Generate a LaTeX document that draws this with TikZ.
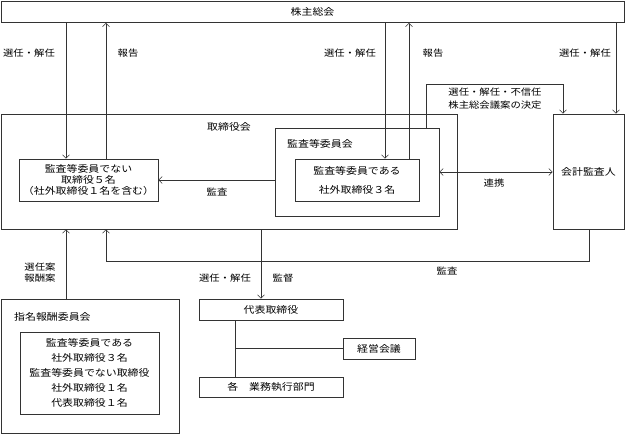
\documentclass[tikz,border=0pt]{standalone}
\usepackage{fontspec}
\setmainfont[FakeStretch=1.15]{Noto Sans CJK JP}
\usetikzlibrary{arrows.meta}

\begin{document}
\begin{tikzpicture}[x=1pt,y=-1pt,
  box/.style={draw=black!80,line width=0.6pt,inner sep=0pt,align=center,font=\fontsize{9.5}{11}\selectfont},
  title/.style={inner sep=0pt,font=\fontsize{9.5}{11}\selectfont},
  lbl/.style={inner sep=0pt,align=center,font=\fontsize{9}{13}\selectfont},
  line/.style={draw=black!80,line width=0.6pt},
  arr/.style={line,-{Straight Barb[length=3.5pt,width=7pt]}},
  both/.style={line,{Straight Barb[length=3.5pt,width=7pt]}-{Straight Barb[length=3.5pt,width=7pt]}}]
\useasboundingbox (0,0) rectangle (625,435);

\node[box,minimum width=623pt,minimum height=21pt] (soukai) at (312.5,12) {株主総会};

\node[box,minimum width=456pt,minimum height=115pt] (trk) at (229,171.5) {};
\node[title] (trkt) at (229,127) {取締役会};
\node[box,minimum width=164pt,minimum height=88pt] (kti) at (357,172) {};
\node[title,anchor=west] (ktit) at (287,144) {監査等委員会};
\node[box,minimum width=124pt,minimum height=42pt] (kta) at (357,180) {監査等委員である\\[8pt]社外取締役３名};
\node[box,minimum width=139pt,minimum height=42pt] (ktn) at (88.5,180) {監査等委員でない\\取締役５名\\（社外取締役１名を含む）};
\node[box,minimum width=71pt,minimum height=115pt] (kaikei) at (588.5,171.5) {会計監査人};

\node[box,minimum width=178pt,minimum height=134pt] (shimei) at (90,366) {};
\node[title,anchor=west] (shimeit) at (14,317) {指名報酬委員会};
\node[box,minimum width=139pt,minimum height=82pt,font=\fontsize{9.5}{15}\selectfont] (iin) at (89.5,373)
  {監査等委員である\\社外取締役３名\\監査等委員でない取締役\\社外取締役１名\\代表取締役１名};

\node[box,minimum width=144pt,minimum height=21pt] (daihyo) at (271,309.5) {代表取締役};
\node[box,minimum width=72pt,minimum height=21pt] (keiei) at (379,348.5) {経営会議};
\node[box,minimum width=144pt,minimum height=20pt] (gyomu) at (271,387) {各　業務執行部門};

\coordinate (senL) at (66,0);
\coordinate (hokL) at (106,0);
\coordinate (senM) at (385,0);
\coordinate (hokM) at (409,0);
\coordinate (senR) at (616,0);
\coordinate (fushin) at (426,84);
\coordinate (fushinR) at (563,84);
\coordinate (kansaR) at (589,261);
\coordinate (kansaL) at (106,261);
\coordinate (kantoku) at (261,0);
\coordinate (bunki) at (235,0);

\draw[arr] (senL |- soukai.south) -- (senL |- ktn.north);
\draw[arr] (hokL |- ktn.north) -- (hokL |- soukai.south);
\draw[arr] (senM |- soukai.south) -- (senM |- kta.north);
\draw[arr] (hokM |- kta.north) -- (hokM |- soukai.south);
\draw[arr] (fushin |- kti.north) -- (fushin) -- (fushinR) -- (fushinR |- kaikei.north);
\draw[arr] (senR |- soukai.south) -- (senR |- kaikei.north);
\draw[arr] (kti.west |- ktn.east) -- (ktn.east);
\draw[both] (kti.east) -- (kaikei.west |- kti.east);
\draw[arr] (senL |- shimei.north) -- (senL |- trk.south);
\draw[arr] (kansaR |- kaikei.south) -- (kansaR) -- (kansaL) -- (kansaL |- trk.south);
\draw[arr] (kantoku |- trk.south) -- (kantoku |- daihyo.north);
\draw[line] (bunki |- daihyo.south) -- (bunki |- gyomu.north);
\draw[line] (bunki |- keiei.west) -- (keiei.west);

\node[lbl] (l1) at (29,53) {選任・解任};
\node[lbl] (l2) at (128,53) {報告};
\node[lbl] (l3) at (350,53) {選任・解任};
\node[lbl] (l4) at (433,53) {報告};
\node[lbl] (l5) at (585,53) {選任・解任};
\node[lbl] (l6) at (495,98.5) {選任・解任・不信任\\株主総会議案の決定};
\node[lbl] (l7) at (217,192) {監査};
\node[lbl] (l8) at (494,183) {連携};
\node[lbl] (l9) at (447,271) {監査};
\node[lbl,font=\fontsize{9}{11}\selectfont] (l10) at (40,272.5) {選任案\\報酬案};
\node[lbl] (l11) at (225,278) {選任・解任};
\node[lbl] (l12) at (283,278) {監督};
\end{tikzpicture}
\end{document}
